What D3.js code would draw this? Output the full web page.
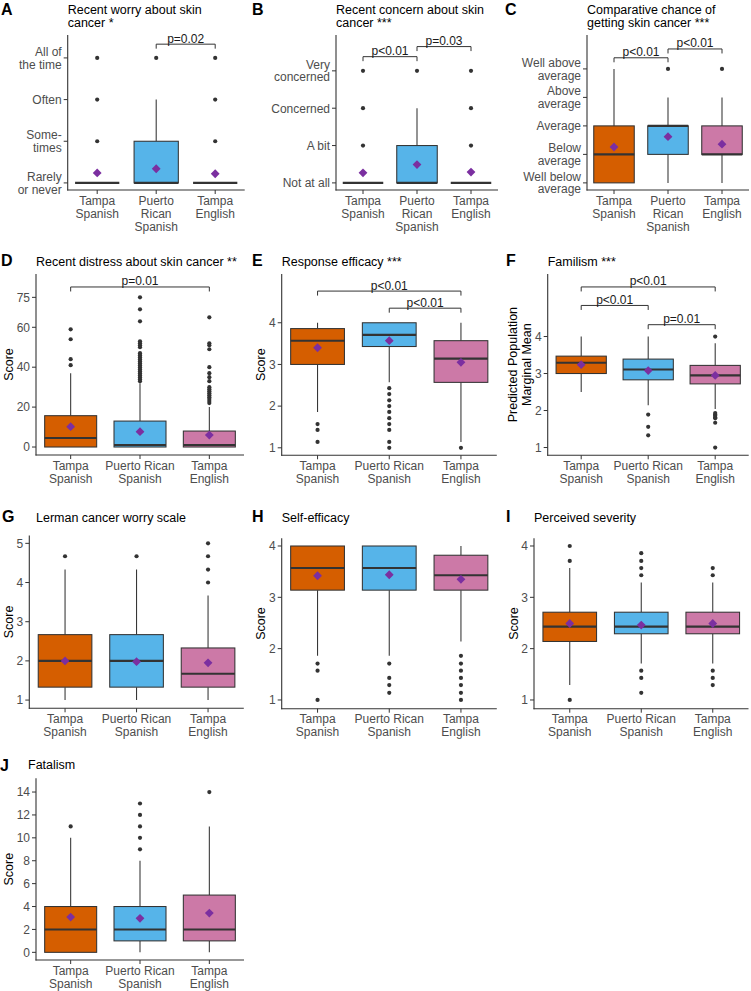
<!DOCTYPE html>
<html><head><meta charset="utf-8">
<script src="https://cdn.jsdelivr.net/npm/d3@7"></script>
<style>
body{margin:0;background:#fff}
text{font-family:"Liberation Sans",Arial,Helvetica,sans-serif}
</style>
</head><body><script>
// ---------- categories ----------
const groups = ["Tampa Spanish", "Puerto Rican Spanish", "Tampa English"];
const groupColors = ["#D55E00", "#56B4E9", "#CC79A7"];
const xLabelsNarrow = [["Tampa", "Spanish"], ["Puerto", "Rican", "Spanish"], ["Tampa", "English"]];
const xLabelsWide = [["Tampa", "Spanish"], ["Puerto Rican", "Spanish"], ["Tampa", "English"]];

// ---------- A: recent worry ----------  box = [lower whisker, q1, median, q3, upper whisker]
const worryBox = [[1, 1, 1, 1, 1], [1, 1, 1, 2, 3], [1, 1, 1, 1, 1]];
const worryMean = [1.24, 1.34, 1.22];
const worryOut = [[2, 3, 4], [4], [2, 3, 4]];
const worryTicks = [1, 2, 3, 4];
const worryTickLabels = [["Rarely", "or never"], ["Some-", "times"], ["Often"], ["All of", "the time"]];
const worrySig = [{a: 1, b: 2, y: 4.33, label: "p=0.02"}];

// ---------- B: recent concern ----------
const concernBox = [[1, 1, 1, 1, 1], [1, 1, 1, 2, 3], [1, 1, 1, 1, 1]];
const concernMean = [1.27, 1.49, 1.29];
const concernOut = [[2, 3, 4], [4], [2, 3, 4]];
const concernTicks = [1, 2, 3, 4];
const concernTickLabels = [["Not at all"], ["A bit"], ["Concerned"], ["Very", "concerned"]];
const concernSig = [{a: 0, b: 1, y: 4.38, label: "p<0.01"}, {a: 1, b: 2, y: 4.65, label: "p=0.03"}];

// ---------- C: comparative chance ----------
const chanceBox = [[1, 1, 2, 3, 5], [1, 2, 3, 3, 4], [1, 2, 2, 3, 4]];
const chanceMean = [2.26, 2.62, 2.36];
const chanceOut = [[], [5], [5]];
const chanceTicks = [1, 2, 3, 4, 5];
const chanceTickLabels = [["Well below", "average"], ["Below", "average"], ["Average"], ["Above", "average"], ["Well above", "average"]];
const chanceSig = [{a: 0, b: 1, y: 5.39, label: "p<0.01"}, {a: 1, b: 2, y: 5.70, label: "p<0.01"}];

// ---------- D: recent distress ----------
const distressBox = [[0, 0, 4.5, 15.7, 37], [0, 0, 1, 13, 32], [0, 0, 1, 8, 20]];
const distressMean = [10.2, 7.7, 6.0];
const distressOut = [
  [41, 44, 54, 59],
  [33, 34, 35, 36, 37, 38, 39, 40, 41, 42, 43, 44, 45, 46, 47, 50, 51, 52, 53, 63, 69, 75],
  [22, 23, 24, 25, 26, 27, 28, 29, 30, 33, 35, 37, 40, 49, 51, 52, 65]
];
const distressTicks = [0, 20, 40, 60, 75];
const distressSig = [{a: 0, b: 2, y: 80.2, label: "p=0.01"}];

// ---------- E: response efficacy ----------
const responseBox = [[1.86, 3.0, 3.57, 3.86, 4], [2.57, 3.43, 3.71, 4, 4], [1.14, 2.57, 3.14, 3.57, 4]];
const responseMean = [3.40, 3.57, 3.05];
const responseOut = [[1.14, 1.43, 1.57], [1, 1.14, 1.43, 1.57, 1.71, 1.86, 2, 2.14, 2.29, 2.43], [1]];
const responseTicks = [1, 2, 3, 4];
const responseSig = [{a: 0, b: 2, y: 4.76, label: "p<0.01"}, {a: 1, b: 2, y: 4.35, label: "p<0.01"}];

// ---------- F: familism ----------
const familismBox = [[2.5, 3.0, 3.29, 3.47, 4], [2.14, 2.83, 3.11, 3.39, 4], [2.04, 2.72, 2.95, 3.22, 3.82]];
const familismMean = [3.24, 3.08, 2.95];
const familismOut = [[], [1.33, 1.56, 1.89], [1, 1.67, 1.79, 1.82, 1.86, 1.89, 1.93, 4]];
const familismTicks = [1, 2, 3, 4];
const familismSig = [{a: 0, b: 2, y: 5.34, label: "p<0.01"}, {a: 0, b: 1, y: 4.84, label: "p<0.01"}, {a: 1, b: 2, y: 4.32, label: "p=0.01"}];

// ---------- G: Lerman ----------
const lermanBox = [[1, 1.33, 2, 2.67, 4.33], [1, 1.33, 2, 2.67, 4.33], [1, 1.33, 1.67, 2.33, 3.67]];
const lermanMean = [2.0, 1.98, 1.95];
const lermanOut = [[4.67], [4.67], [4, 4.33, 4.67, 5]];
const lermanTicks = [1, 2, 3, 4, 5];

// ---------- H: self-efficacy ----------
const selfBox = [[1.86, 3.14, 3.57, 4, 4], [1.86, 3.14, 3.57, 4, 4], [2.14, 3.14, 3.43, 3.82, 4]];
const selfMean = [3.42, 3.44, 3.35];
const selfOut = [[1, 1.57, 1.71], [1.14, 1.29, 1.43, 1.71], [1, 1.14, 1.29, 1.43, 1.57, 1.71, 1.86]];
const selfTicks = [1, 2, 3, 4];

// ---------- I: perceived severity ----------
const severityBox = [[1.29, 2.14, 2.43, 2.71, 3.57], [1.71, 2.29, 2.43, 2.71, 3.29], [1.71, 2.29, 2.43, 2.71, 3.29]];
const severityMean = [2.49, 2.46, 2.49];
const severityOut = [[1, 3.71, 4], [1.14, 1.43, 1.57, 3.43, 3.57, 3.71, 3.86], [1.29, 1.43, 1.57, 3.43, 3.57]];
const severityTicks = [1, 2, 3, 4];

// ---------- J: fatalism ----------
const fatalismBox = [[0, 0, 2, 4, 10], [0, 1, 2, 4, 8], [0, 1, 2, 5, 11]];
const fatalismMean = [3.08, 2.97, 3.43];
const fatalismOut = [[11], [9, 10, 11, 12, 13], [14]];
const fatalismTicks = [0, 2, 4, 6, 8, 10, 12, 14];

// ---------- panel configuration ----------
const panels = [
  {letter: "A", title: ["Recent worry about skin", "cancer *"], box: worryBox, mean: worryMean, out: worryOut,
   ticks: worryTicks, tickLabels: worryTickLabels, sig: worrySig, domain: [0.83, 4.55],
   lay: {x0: 67.7, x1: 244.7, y0: 35, y1: 190}, xl: xLabelsNarrow, letterPos: [1, 14.5], titleY: 13.5},
  {letter: "B", title: ["Recent concern about skin", "cancer ***"], box: concernBox, mean: concernMean, out: concernOut,
   ticks: concernTicks, tickLabels: concernTickLabels, sig: concernSig, domain: [0.81, 4.96],
   lay: {x0: 336, x1: 498, y0: 35, y1: 190}, xl: xLabelsNarrow, letterPos: [252, 14.5], titleY: 13.5},
  {letter: "C", title: ["Comparative chance of", "getting skin cancer ***"], box: chanceBox, mean: chanceMean, out: chanceOut,
   ticks: chanceTicks, tickLabels: chanceTickLabels, sig: chanceSig, domain: [0.75, 6.19],
   lay: {x0: 587, x1: 749, y0: 35, y1: 190}, xl: xLabelsNarrow, letterPos: [505, 14.5], titleY: 13.5},
  {letter: "D", title: ["Recent distress about skin cancer **"], box: distressBox, mean: distressMean, out: distressOut,
   ticks: distressTicks, sig: distressSig, domain: [-4, 86.7], yTitle: ["Score"], yTitleX: 8.5,
   lay: {x0: 36, x1: 244, y0: 274, y1: 455}, xl: xLabelsWide, letterPos: [1, 266], titleY: 265.5},
  {letter: "E", title: ["Response efficacy ***"], box: responseBox, mean: responseMean, out: responseOut,
   ticks: responseTicks, sig: responseSig, domain: [0.82, 5.17], yTitle: ["Score"], yTitleX: 260.7,
   lay: {x0: 281.7, x1: 496.8, y0: 274, y1: 455.3}, xl: xLabelsWide, letterPos: [252, 266], titleY: 265.5},
  {letter: "F", title: ["Familism ***"], box: familismBox, mean: familismMean, out: familismOut,
   ticks: familismTicks, sig: familismSig, domain: [0.79, 5.69], yTitle: ["Predicted Population", "Marginal Mean"], yTitleX: 513,
   lay: {x0: 547.7, x1: 748.7, y0: 274, y1: 455.3}, xl: xLabelsWide, letterPos: [506, 266], titleY: 265.5},
  {letter: "G", title: ["Lerman cancer worry scale"], box: lermanBox, mean: lermanMean, out: lermanOut,
   ticks: lermanTicks, sig: [], domain: [0.79, 5.2], yTitle: ["Score"], yTitleX: 8.5,
   lay: {x0: 29.3, x1: 243.8, y0: 535.5, y1: 708.3}, xl: xLabelsWide, letterPos: [2, 522], titleY: 521.5, titleX: 36},
  {letter: "H", title: ["Self-efficacy"], box: selfBox, mean: selfMean, out: selfOut,
   ticks: selfTicks, sig: [], domain: [0.83, 4.15], yTitle: ["Score"], yTitleX: 260.5,
   lay: {x0: 281.7, x1: 496.8, y0: 538.3, y1: 708.7}, xl: xLabelsWide, letterPos: [252, 522], titleY: 521.5},
  {letter: "I", title: ["Perceived severity"], box: severityBox, mean: severityMean, out: severityOut,
   ticks: severityTicks, sig: [], domain: [0.83, 4.15], yTitle: ["Score"], yTitleX: 513.3,
   lay: {x0: 534, x1: 748.5, y0: 538.3, y1: 708.7}, xl: xLabelsWide, letterPos: [506, 522], titleY: 521.5},
  {letter: "J", title: ["Fatalism"], box: fatalismBox, mean: fatalismMean, out: fatalismOut,
   ticks: fatalismTicks, sig: [], domain: [-0.67, 15.2], yTitle: ["Score"], yTitleX: 8.5,
   lay: {x0: 36, x1: 244, y0: 778.3, y1: 960}, xl: xLabelsWide, letterPos: [0, 771], titleY: 769, titleX: 28}
];

// ---------- drawing ----------
const W = 751, H = 991;
const svg = d3.select("body").append("svg").attr("width", W).attr("height", H);
const ink = "#333333", tickInk = "#4D4D4D";

panels.forEach(p => {
  const L = p.lay;
  const x = d3.scaleBand().domain(groups).range([L.x0, L.x1]).padding(0);
  const y = d3.scaleLinear().domain(p.domain).range([L.y1, L.y0]);
  const cx = i => x(groups[i]) + x.bandwidth() / 2;
  const bw = x.bandwidth() * 0.75;
  const g = svg.append("g");

  // letter + title
  g.append("text").attr("x", p.letterPos[0]).attr("y", p.letterPos[1])
    .attr("font-size", 16).attr("font-weight", "bold").attr("fill", "#000").text(p.letter);
  p.title.forEach((t, i) => {
    g.append("text").attr("x", p.titleX !== undefined ? p.titleX : L.x0).attr("y", p.titleY + i * 13.3)
      .attr("font-size", 12.5).attr("fill", "#000").text(t);
  });

  // y axis title
  if (p.yTitle) {
    const cy = (L.y0 + L.y1) / 2;
    p.yTitle.forEach((t, i) => {
      g.append("text")
        .attr("transform", `translate(${p.yTitleX + i * 14},${cy}) rotate(-90)`)
        .attr("text-anchor", "middle").attr("dy", "0.35em")
        .attr("font-size", 12.5).attr("fill", "#000").text(t);
    });
  }

  // boxes
  p.box.forEach((b, i) => {
    const c = cx(i);
    const [lo, q1, med, q3, hi] = b;
    g.append("line").attr("x1", c).attr("x2", c).attr("y1", y(q3)).attr("y2", y(hi))
      .attr("stroke", ink).attr("stroke-width", 1.05);
    g.append("line").attr("x1", c).attr("x2", c).attr("y1", y(q1)).attr("y2", y(lo))
      .attr("stroke", ink).attr("stroke-width", 1.05);
    g.append("rect").attr("x", c - bw / 2).attr("width", bw)
      .attr("y", y(q3)).attr("height", Math.max(0, y(q1) - y(q3)))
      .attr("fill", groupColors[i]).attr("stroke", ink).attr("stroke-width", 1.05);
    g.append("line").attr("x1", c - bw / 2).attr("x2", c + bw / 2).attr("y1", y(med)).attr("y2", y(med))
      .attr("stroke", ink).attr("stroke-width", 2.1);
    p.out[i].forEach(v => {
      g.append("circle").attr("cx", c).attr("cy", y(v)).attr("r", 2.1).attr("fill", ink);
    });
  });

  // means (diamonds)
  p.mean.forEach((m, i) => {
    const r = 4.4, c = cx(i), yy = y(m);
    g.append("path").attr("d", `M${c},${yy - r}L${c + r},${yy}L${c},${yy + r}L${c - r},${yy}Z`)
      .attr("fill", "#7B2FA0");
  });

  // significance brackets
  p.sig.forEach(s => {
    const xa = cx(s.a), xb = cx(s.b), yy = y(s.y);
    g.append("path").attr("d", `M${xa},${yy + 4.5}V${yy}H${xb}V${yy + 4.5}`)
      .attr("fill", "none").attr("stroke", ink).attr("stroke-width", 1);
    g.append("text").attr("x", (xa + xb) / 2).attr("y", yy - 1.5).attr("text-anchor", "middle")
      .attr("font-size", 12).attr("fill", "#1a1a1a").text(s.label);
  });

  // axes lines
  g.append("line").attr("x1", L.x0).attr("x2", L.x0).attr("y1", L.y0).attr("y2", L.y1 + 0.5)
    .attr("stroke", ink).attr("stroke-width", 1.1);
  g.append("line").attr("x1", L.x0 - 0.5).attr("x2", L.x1).attr("y1", L.y1).attr("y2", L.y1)
    .attr("stroke", ink).attr("stroke-width", 1.1);

  // y ticks
  p.ticks.forEach((t, i) => {
    const yy = y(t);
    g.append("line").attr("x1", L.x0 - 4).attr("x2", L.x0).attr("y1", yy).attr("y2", yy)
      .attr("stroke", ink).attr("stroke-width", 1);
    const lines = p.tickLabels ? p.tickLabels[i] : [String(t)];
    lines.forEach((ln, k) => {
      g.append("text").attr("x", L.x0 - 6).attr("y", yy + (k - (lines.length - 1) / 2) * 12.6 + 4.3)
        .attr("text-anchor", "end").attr("font-size", 12).attr("fill", tickInk).text(ln);
    });
  });

  // x ticks
  groups.forEach((gr, i) => {
    const c = cx(i);
    g.append("line").attr("x1", c).attr("x2", c).attr("y1", L.y1).attr("y2", L.y1 + 4)
      .attr("stroke", ink).attr("stroke-width", 1);
    p.xl[i].forEach((ln, k) => {
      g.append("text").attr("x", c).attr("y", L.y1 + 14.5 + k * 13.2).attr("text-anchor", "middle")
        .attr("font-size", 12).attr("fill", tickInk).text(ln);
    });
  });
});
</script></body></html>
